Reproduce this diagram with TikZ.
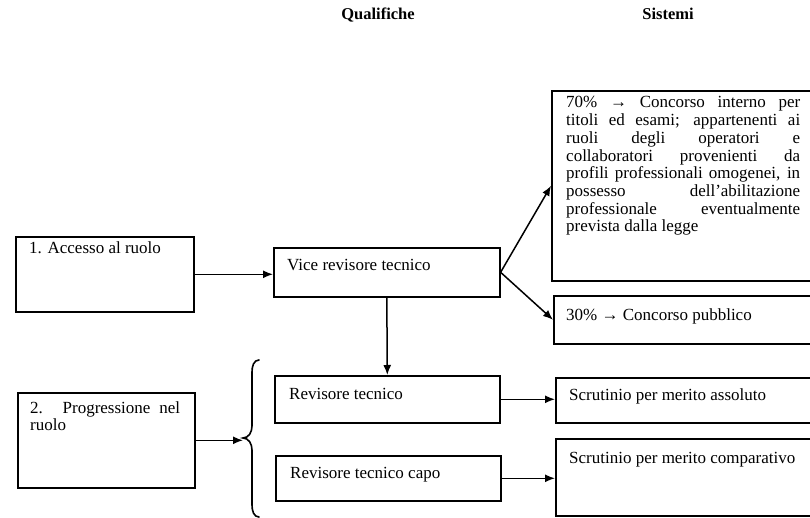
\documentclass[tikz,border=0pt]{standalone}
\usepackage{fontspec}
\setmainfont{Liberation Serif}
\usetikzlibrary{arrows.meta}
\begin{document}
\begin{tikzpicture}[x=1pt,y=-1pt,
  frame/.style={draw, line width=1.6pt, inner sep=0pt, anchor=north west},
  txt/.style={anchor=base west, inner sep=0pt, font=\fontsize{17}{17.7}\selectfont},
  head/.style={anchor=base, inner sep=0pt, font=\fontsize{16.5}{17}\selectfont\bfseries},
  arr/.style={line width=1.5pt, -{Latex[length=10pt,width=8pt]}},
  brace/.style={line width=1.6pt, line cap=round}]
\useasboundingbox (0,0) rectangle (810,518);

% column headings
\node[head] (hq) at (378,20) {Qualifiche};
\node[head] (hs) at (668,20) {Sistemi};

% left column: stages
\node[frame, minimum width=178pt, minimum height=75pt] (acc) at (15,236) {};
\node[txt] (tacc) at (29,254) {1. Accesso al ruolo};
\node[frame, minimum width=177pt, minimum height=95pt] (prog) at (17,392) {};
\node[txt] (tprog) at (30,413) {\parbox[t]{150pt}{2. Progressione nel\linebreak ruolo}};

% middle column: qualifications
\node[frame, minimum width=226pt, minimum height=49pt] (vice) at (273,247) {};
\node[txt] (tvice) at (287,271) {Vice revisore tecnico};
\node[frame, minimum width=225pt, minimum height=47pt] (rt) at (274,375) {};
\node[txt] (trt) at (289,399) {Revisore tecnico};
\node[frame, minimum width=225pt, minimum height=45pt] (capo) at (275,455) {};
\node[txt] (tcapo) at (290,478) {Revisore tecnico capo};

% right column: selection systems
\node[frame, minimum width=270pt, minimum height=190pt] (b70) at (551,90) {};
\node[txt] (t70) at (566,108) {\parbox[t]{234pt}{\tolerance=10000
  70\% → Concorso interno per\linebreak
  titoli ed esami; appartenenti ai\linebreak
  ruoli degli operatori e\linebreak
  collaboratori provenienti da\linebreak
  profili professionali omogenei, in\linebreak
  possesso dell’abilitazione\linebreak
  professionale eventualmente\linebreak
  prevista dalla legge}};
\node[frame, minimum width=270pt, minimum height=48pt] (b30) at (553,295) {};
\node[txt] (t30) at (566,320) {30\% → Concorso pubblico};
\node[frame, minimum width=270pt, minimum height=45pt] (sa) at (555,377) {};
\node[txt] (tsa) at (569,400) {Scrutinio per merito assoluto};
\node[frame, minimum width=270pt, minimum height=77pt] (comp) at (555,438) {};
\node[txt] (tcomp) at (569,463) {Scrutinio per merito comparativo};

% curly brace grouping the career steps
\coordinate (tip) at (243,438);
\draw[brace] (259,360) to[out=180,in=90] (252,372) -- (252,426)
  to[out=-90,in=0] (tip) to[out=0,in=90] (252,450) -- (252,505)
  to[out=-90,in=180] (259,517);

% connectors
\draw[arr] (acc.east) -- (acc.east -| vice.west);
\draw[arr] (vice.east) -- (b70.west);
\draw[arr] (vice.east) -- (b30.west);
\draw[arr] (vice.south) -- (rt.north);
\draw[arr] (prog.east) -- (prog.east -| tip);
\draw[arr] (rt.east) -- (rt.east -| sa.west);
\draw[arr] (capo.east) -- (capo.east -| comp.west);
\end{tikzpicture}
\end{document}
